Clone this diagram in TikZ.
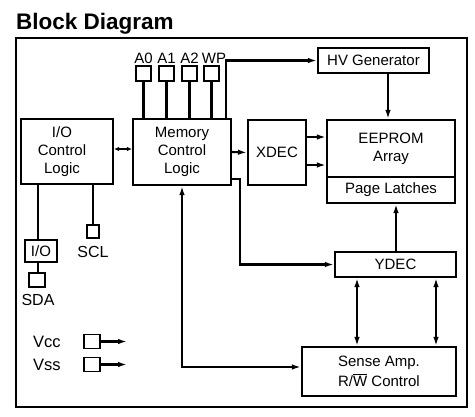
\documentclass[tikz,border=0pt]{standalone}
\usepackage{fontspec}
\setmainfont{Liberation Sans}
\usetikzlibrary{arrows.meta}
\begin{document}
\begin{tikzpicture}[x=1pt,y=-1pt,
  every node/.style={font=\fontsize{15}{18}\selectfont},
  blk/.style={draw,line width=2.1pt,inner sep=0pt,align=center,anchor=center},
  pad/.style={draw,line width=1.9pt,inner sep=0pt},
  wire/.style={line width=2.1pt},
  arr/.style={wire,-{Latex[length=9pt,width=5.5pt]}},
  arrb/.style={wire,{Latex[length=9pt,width=5.5pt]}-{Latex[length=9pt,width=5.5pt]}},
  arrs/.style={wire,{Latex[length=5pt,width=4.5pt]}-{Latex[length=5pt,width=4.5pt]}},
  lbl/.style={inner sep=0pt,anchor=base}]
\useasboundingbox (0,0) rectangle (475,416);
\node[lbl,anchor=base west,font=\fontsize{22.5}{26}\selectfont\bfseries] (title) at (16,29) {Block Diagram};
\draw[line width=2.1pt] (16,38) rectangle (467,407);
% blocks
\node[blk,minimum width=98pt,minimum height=66pt] (mcl) at (182,152) {Memory\\Control\\Logic};
\node[blk,minimum width=92pt,minimum height=65pt] (ioc) at (67,151.5) {};
\node[align=center,inner sep=0pt] (ioct) at (62,151.5) {I/O\\Control\\Logic};
\node[blk,minimum width=58pt,minimum height=65pt] (xdec) at (277,152.5) {XDEC};
\node[blk,minimum width=128pt,minimum height=57pt] (eeprom) at (391,148.5) {EEPROM\\Array};
\node[blk,minimum width=128pt,minimum height=26pt] (page) at (391,190) {Page Latches};
\node[blk,minimum width=111pt,minimum height=25pt] (hv) at (373.5,60.5) {HV Generator};
\node[blk,minimum width=121pt,minimum height=25pt] (ydec) at (395.5,264.5) {YDEC};
\node[blk,minimum width=154pt,minimum height=49pt,font=\fontsize{15}{19.5}\selectfont] (sense) at (379,371.5) {Sense Amp.\\R/$\overline{\hbox{W}}$ Control};
\node[blk,minimum width=32pt,minimum height=22pt] (io) at (41,251) {I/O};
% pads
\node[pad,minimum width=15pt,minimum height=15pt] (a0) at (143.5,73.5) {};
\node[pad,minimum width=15pt,minimum height=15pt] (a1) at (166.5,73.5) {};
\node[pad,minimum width=15pt,minimum height=15pt] (a2) at (189.5,73.5) {};
\node[pad,minimum width=15pt,minimum height=15pt] (wp) at (211.5,73.5) {};
\node[lbl] (a0l) at (143.5,63) {A0};
\node[lbl] (a1l) at (166.5,63) {A1};
\node[lbl] (a2l) at (189.5,63) {A2};
\node[lbl] (wpl) at (214,63) {WP};
\node[pad,minimum width=12pt,minimum height=13pt] (scl) at (93,231.5) {};
\node[lbl,font=\fontsize{16}{18}\selectfont] (scll) at (93,257) {SCL};
\node[pad,minimum width=16pt,minimum height=14pt] (sda) at (37,280) {};
\node[lbl,font=\fontsize{16}{18}\selectfont] (sdal) at (38,305) {SDA};
\node[pad,minimum width=16pt,minimum height=14pt] (vcc) at (92,341.5) {};
\node[pad,minimum width=16pt,minimum height=14pt] (vss) at (92,364.5) {};
\node[lbl,anchor=base west,font=\fontsize{16.5}{18}\selectfont] (vccl) at (33,347) {Vcc};
\node[lbl,anchor=base west,font=\fontsize{16.5}{18}\selectfont] (vssl) at (33,370) {Vss};
\coordinate (vcce) at (127,341.5);
\coordinate (vsse) at (127,364.5);
% helper coordinates
\coordinate (wpx) at (226,0);
\coordinate (hvx) at (388,0);
\coordinate (r1) at (0,137);
\coordinate (r2) at (0,165);
\coordinate (r3) at (0,179);
\coordinate (r4) at (0,149);
\coordinate (r5) at (0,367);
\coordinate (bx) at (240,0);
\coordinate (yx) at (396,0);
\coordinate (s1) at (357,0);
\coordinate (s2) at (436,0);
\coordinate (c38) at (38,0);
% connectors
\draw[wire] (a0.south) -- (a0.south |- mcl.north);
\draw[wire] (a1.south) -- (a1.south |- mcl.north);
\draw[wire] (a2.south) -- (a2.south |- mcl.north);
\draw[wire] (wp.south) -- (wp.south |- mcl.north);
\draw[arr] (mcl.north -| wpx) |- (hv.west);
\draw[arr] (hv.south -| hvx) -- (eeprom.north -| hvx);
\draw[arrs] (ioc.east |- r4) -- (mcl.west |- r4);
\draw[arr] (mcl.east) -- (xdec.west);
\draw[arr] (xdec.east |- r1) -- (eeprom.west |- r1);
\draw[arr] (xdec.east |- r2) -- (eeprom.west |- r2);
\draw[arr] (mcl.east |- r3) -| (bx |- ydec.west) -- (ydec.west);
\draw[arr] (ydec.north -| yx) -- (page.south -| yx);
\draw[arrb] (ydec.south -| s1) -- (sense.north -| s1);
\draw[arrb] (ydec.south -| s2) -- (sense.north -| s2);
\draw[arrb] (mcl.south) |- (sense.west |- r5);
\draw[wire] (ioc.south -| c38) -- (io.north -| c38);
\draw[wire] (ioc.south -| scl) -- (scl.north);
\draw[wire] (io.south -| c38) -- (sda.north -| c38);
\draw[arr] (vcc.east) -- (vcce);
\draw[arr] (vss.east) -- (vsse);
\end{tikzpicture}
\end{document}
